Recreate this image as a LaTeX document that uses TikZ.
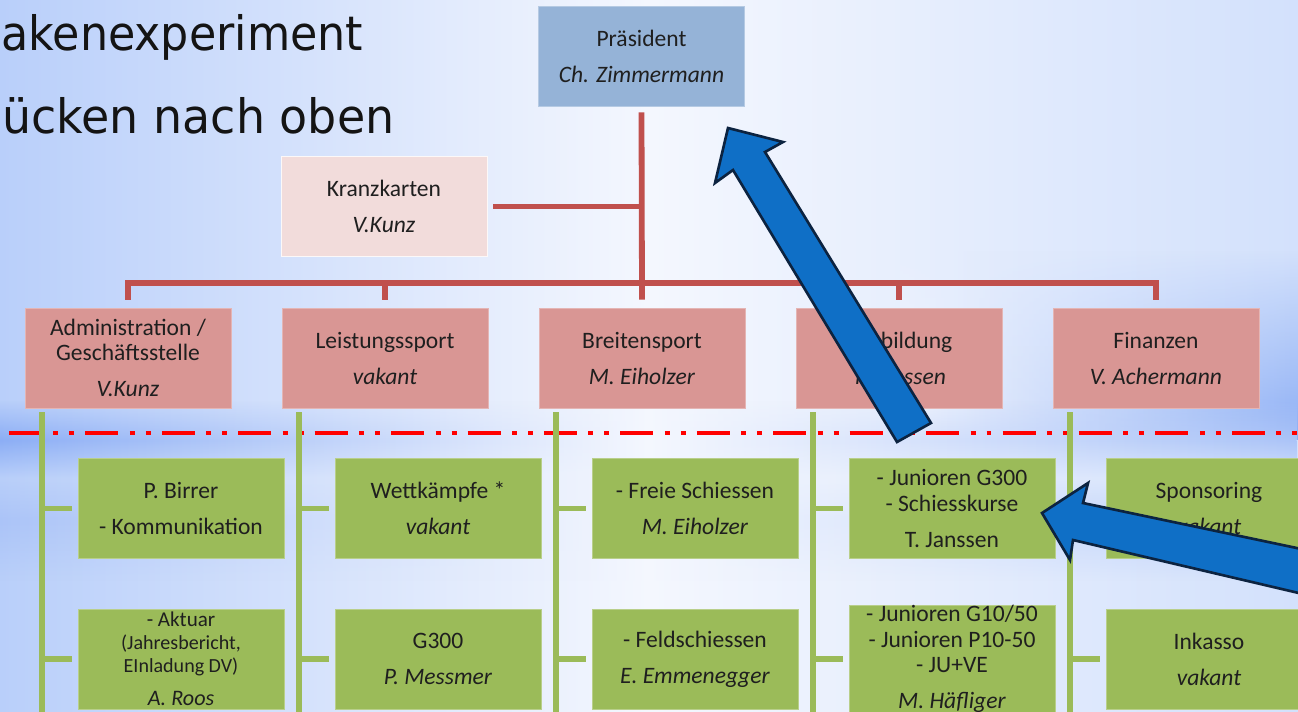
\documentclass[tikz,border=0pt]{standalone}
\usepackage{fontspec}
\setmainfont{Carlito}
\newfontfamily\titelfont{DejaVu Sans}
\usetikzlibrary{calc,fadings}

\definecolor{presblau}{HTML}{95B3D7}
\definecolor{kranzrosa}{HTML}{F2DCDB}
\definecolor{bereichrot}{HTML}{D99694}
\definecolor{linienrot}{HTML}{C0504D}
\definecolor{gruen}{HTML}{9BBB59}
\definecolor{pfeilblau}{HTML}{0F6FC6}
\definecolor{pfeilrand}{HTML}{0C2340}
\definecolor{hgrand}{HTML}{B9CFFA}
\definecolor{hgrechts}{HTML}{D3E1FC}
\definecolor{hgmitte}{HTML}{F4F7FE}
\definecolor{hgband}{HTML}{8CAEF5}

\tikzset{
  box/.style={minimum width=4.12cm, minimum height=2cm, inner sep=0pt, align=center,
    font=\fontsize{13.4}{14.5}\selectfont, text=black!88, line width=0.4pt},
  presbox/.style={box, fill=presblau, draw=presblau!70!white},
  kranzbox/.style={box, fill=kranzrosa, draw=white!80!kranzrosa},
  bereichbox/.style={box, fill=bereichrot, draw=bereichrot!70!white},
  teambox/.style={box, fill=gruen, draw=gruen!70!white},
  klein/.style={font=\fontsize{11.4}{13}\selectfont},
  rotlinie/.style={linienrot, line width=3.3pt},
  gruenlinie/.style={gruen, line width=3.3pt},
  grenze/.style={red, line width=2.3pt, dash pattern=on 18.8pt off 6.5pt on 2.8pt off 6.3pt on 2.8pt off 6.3pt},
  blockpfeil/.style={fill=pfeilblau, draw=pfeilrand, line width=1.5pt, line join=miter},
  titel/.style={anchor=base west, inner sep=0pt, font=\titelfont\fontsize{27}{32}\selectfont, text=black!92}
}

\begin{document}
\begin{tikzpicture}[x=0.02cm, y=-0.02cm]
\useasboundingbox (0,0) rectangle (1298,711);

\shade[left color=hgrand, right color=hgrechts, middle color=hgmitte] (0,0) rectangle (1298,711);
\shade[left color=hgmitte, right color=hgband, path fading=north] (900,250) rectangle (1298,440);
\shade[left color=hgband, right color=hgband!70!hgmitte, middle color=hgmitte, path fading=north] (0,400) rectangle (1298,440);
\shade[left color=hgband, right color=hgband!70!hgmitte, middle color=hgmitte, path fading=south] (0,440) rectangle (1298,478);
\shade[left color=hgband!70!hgmitte, right color=hgband!60!hgmitte, middle color=hgmitte, path fading=north] (0,478) rectangle (1298,520);
\shade[left color=hgband!70!hgmitte, right color=hgband!60!hgmitte, middle color=hgmitte, path fading=south] (0,520) rectangle (1298,580);

\node[titel] (titel1) at (1,50) {\scalebox{0.936}[1]{akenexperiment}};
\node[titel] (titel2) at (2,133) {\scalebox{0.968}[1]{ücken nach oben}};

\node[presbox] (pres) at (641.5,56) {Präsident\\[6pt]\textit{Ch. Zimmermann}};
\node[kranzbox] (kranz) at (384,206.5) {Kranzkarten\\[6pt]\textit{V.Kunz}};

\node[bereichbox] (adm) at (128,358) {Administration /\\Geschäftsstelle\\[6pt]\textit{V.Kunz}};
\node[bereichbox] (leist) at (385,358) {Leistungssport\\[6pt]\textit{vakant}};
\node[bereichbox] (breit) at (642,358) {Breitensport\\[6pt]\textit{M. Eiholzer}};
\node[bereichbox] (ausb) at (899,358) {Ausbildung\\[6pt]\textit{T. Janssen}};
\node[bereichbox] (fin) at (1156,358) {Finanzen\\[6pt]\textit{V. Achermann}};

\node[teambox] (birrer) at (181,508.5) {P. Birrer\\[6pt]- Kommunikation};
\node[teambox, klein] (aktuar) at (181,659) {{\fontsize{12}{13}\selectfont - Aktuar}\\(Jahresbericht,\\EInladung DV)\\[6pt]{\fontsize{12.6}{13}\selectfont\itshape A. Roos}};
\node[teambox] (wettk) at (438,508.5) {Wettkämpfe *\\[6pt]\textit{vakant}};
\node[teambox] (gdrei) at (438,659) {G300\\[6pt]\textit{P. Messmer}};
\node[teambox] (freie) at (695,508.5) {- Freie Schiessen\\[6pt]\textit{M. Eiholzer}};
\node[teambox] (feld) at (695,659) {- Feldschiessen\\[6pt]\textit{E. Emmenegger}};
\node[teambox] (junior) at (952,508.5) {- Junioren G300\\- Schiesskurse\\[6pt]T. Janssen};
\node[teambox] (jugend) at (952,659) {- Junioren G10/50\\- Junioren P10-50\\- JU+VE\\[6pt]\textit{M. Häfliger}};
\node[teambox] (spons) at (1209,508.5) {Sponsoring\\[6pt]\textit{vakant}};
\node[teambox] (inkasso) at (1209,659) {Inkasso\\[6pt]\textit{vakant}};

\draw[rotlinie] ($(pres.south)+(0,6)$) -- ($(breit.north)+(0,-8)$);
\draw[rotlinie] ($(kranz.east)+(6,0)$) -- (pres.south |- kranz.east);
\draw[rotlinie] ($(adm.north)+(0,-8)$) -- ($(adm.north)+(0,-25)$) -| ($(fin.north)+(0,-8)$);
\draw[rotlinie] ($(leist.north)+(0,-8)$) -- ($(leist.north)+(0,-25)$);
\draw[rotlinie] ($(ausb.north)+(0,-8)$) -- ($(ausb.north)+(0,-25)$);

\coordinate (grenzeL) at (9,433);
\coordinate (grenzeR) at (1298,433);
\draw[grenze] (grenzeL) -- (grenzeR);

\draw[gruenlinie] ($(adm.south west)+(17,4)$) -- ($(adm.south west)+(17,320)$);
\draw[gruenlinie] ($(birrer.west)+(-6,0)$) -- ($(birrer.west)+(-36,0)$);
\draw[gruenlinie] ($(aktuar.west)+(-6,0)$) -- ($(aktuar.west)+(-36,0)$);
\draw[gruenlinie] ($(leist.south west)+(17,4)$) -- ($(leist.south west)+(17,320)$);
\draw[gruenlinie] ($(wettk.west)+(-6,0)$) -- ($(wettk.west)+(-36,0)$);
\draw[gruenlinie] ($(gdrei.west)+(-6,0)$) -- ($(gdrei.west)+(-36,0)$);
\draw[gruenlinie] ($(breit.south west)+(17,4)$) -- ($(breit.south west)+(17,320)$);
\draw[gruenlinie] ($(freie.west)+(-6,0)$) -- ($(freie.west)+(-36,0)$);
\draw[gruenlinie] ($(feld.west)+(-6,0)$) -- ($(feld.west)+(-36,0)$);
\draw[gruenlinie] ($(ausb.south west)+(17,4)$) -- ($(ausb.south west)+(17,320)$);
\draw[gruenlinie] ($(junior.west)+(-6,0)$) -- ($(junior.west)+(-36,0)$);
\draw[gruenlinie] ($(jugend.west)+(-6,0)$) -- ($(jugend.west)+(-36,0)$);
\draw[gruenlinie] ($(fin.south west)+(17,4)$) -- ($(fin.south west)+(17,320)$);
\draw[gruenlinie] ($(spons.west)+(-6,0)$) -- ($(spons.west)+(-36,0)$);
\draw[gruenlinie] ($(inkasso.west)+(-6,0)$) -- ($(inkasso.west)+(-36,0)$);

\draw[blockpfeil] (728,128) -- (783,142) -- (765,152) -- (931,423) -- (897,442) -- (733,170) -- (715,183) -- cycle;
\draw[blockpfeil] (1042,513) -- (1088,483) -- (1083,503) -- (1330,555) -- (1320,598) -- (1073,540) -- (1070,560) -- cycle;
\end{tikzpicture}
\end{document}
